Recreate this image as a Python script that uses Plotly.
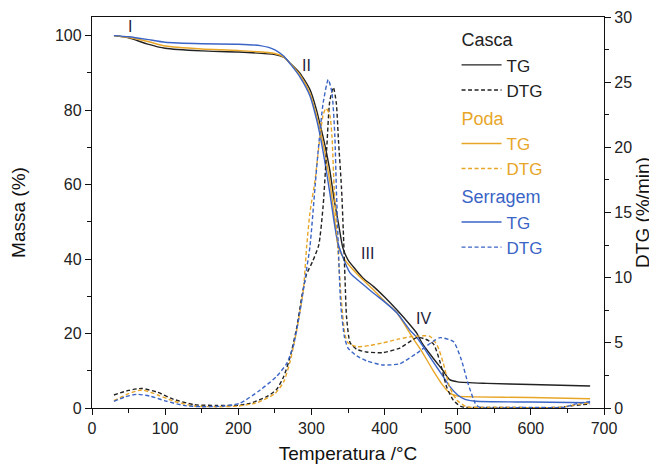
import plotly.graph_objects as go

# ---------------- data ----------------
# TG (mass %) curves
casca_tg_t = [30, 50, 75, 100, 150, 200, 250, 262, 271, 284, 298, 307, 312, 318, 325, 331, 337, 343, 350, 357, 370, 385, 400, 417, 435, 444, 451, 466, 480, 489, 500, 540, 600, 681]
casca_tg_m = [100, 99.4, 97.8, 96.6, 95.9, 95.6, 94.9, 94.2, 92.6, 90, 85.5, 80, 76, 71, 64, 56, 49.5, 43, 39.8, 38, 35, 32.6, 29.8, 26.3, 22.3, 20.1, 17.5, 13.5, 10, 7.6, 7.0, 6.6, 6.3, 5.9]

poda_tg_t = [30, 50, 75, 100, 150, 200, 250, 262, 271, 284, 298, 307, 312, 318, 325, 331, 337, 345, 353, 370, 385, 400, 417, 439, 450, 466, 480, 489, 500, 520, 600, 681]
poda_tg_m = [100, 99.5, 98.5, 97.2, 96.4, 96.0, 95.2, 94.3, 92.5, 89.5, 84.5, 78.5, 74.5, 69, 61, 52, 43, 40, 38, 34.5, 31.7, 28.7, 25.5, 18.7, 15.5, 10.2, 6, 4, 3.2, 3.0, 2.8, 2.5]

serr_tg_t = [30, 50, 75, 100, 150, 200, 230, 250, 262, 271, 284, 298, 307, 312, 318, 325, 331, 336, 341, 353, 370, 385, 400, 417, 435, 444, 451, 466, 480, 489, 500, 510, 525, 600, 681]
serr_tg_m = [100, 99.7, 99, 98.2, 97.8, 97.7, 97.3, 96.2, 94.5, 92.4, 89, 83.8, 77.5, 73, 66.5, 58, 50, 44.5, 41.5, 36.2, 33.3, 30.8, 28.5, 25.5, 20.8, 19, 17, 12.5, 8.5, 5.8, 3.5, 2.3, 1.8, 1.6, 1.4]

# DTG (%/min) curves
casca_dtg_t = [30, 50, 68, 90, 110, 140, 170, 200, 216, 239, 252, 262, 271, 280, 287, 293, 302, 310, 316, 321, 325, 330, 334, 337, 341, 343.5, 346, 348, 353, 362, 375, 398, 421, 444, 455, 467, 476, 485, 494, 505, 550, 640, 660, 681]
casca_dtg_v = [1.0, 1.35, 1.5, 1.2, 0.7, 0.25, 0.2, 0.2, 0.36, 0.87, 1.4, 2.4, 3.95, 6.2, 8.6, 10.2, 11.3, 12.5, 15.5, 20, 23.5, 24.6, 23.4, 20.5, 17, 13.7, 9.8, 7.0, 5.0, 4.5, 4.3, 4.25, 4.6, 5.4, 5.3, 4.9, 3.5, 1.6, 0.6, 0.1, 0.05, 0.05, 0.2, 0.3]

poda_dtg_t = [30, 50, 68, 90, 110, 140, 170, 200, 225, 250, 262, 271, 280, 289, 293.5, 298, 305, 310, 316, 320, 325, 328, 331, 334.5, 337, 341, 346, 350, 362, 380, 398, 420, 440, 462, 472, 480, 489, 499, 512, 550, 640, 660, 681]
poda_dtg_v = [0.56, 1.1, 1.38, 1.0, 0.55, 0.15, 0.1, 0.15, 0.4, 1.1, 2.0, 3.6, 6.0, 9.1, 12.4, 15, 17.5, 20, 22.5, 23.0, 22.5, 20.9, 17, 13.7, 11.5, 8.2, 5.6, 5.0, 4.7, 4.8, 5.0, 5.3, 5.5, 5.5, 4.8, 3.5, 1.6, 0.6, 0.1, 0.05, 0.05, 0.25, 0.4]

serr_dtg_t = [30, 45, 61, 80, 100, 125, 150, 180, 202, 230, 252, 266, 275, 284, 291, 298, 305, 309, 316, 323, 328, 332, 334, 337, 340, 345, 350, 362, 376, 398, 421, 444, 466, 476, 494, 505, 514, 524, 530, 600, 645, 660, 681]
serr_dtg_v = [0.5, 0.85, 1.05, 0.9, 0.55, 0.2, 0.1, 0.15, 0.36, 1.38, 2.4, 3.4, 4.7, 7.3, 9.8, 12.4, 17, 19.6, 23.4, 25.2, 24.2, 20.9, 17, 12, 8, 5.5, 4.6, 4.0, 3.6, 3.3, 3.4, 4.2, 5.1, 5.4, 5.1, 3.7, 1.9, 0.36, 0.05, 0.05, 0.05, 0.3, 0.5]

x_ticks = [0, 100, 200, 300, 400, 500, 600, 700]
left_ticks = [0, 20, 40, 60, 80, 100]
right_ticks = [0, 5, 10, 15, 20, 25, 30]

stage_labels = ["I", "II", "III", "IV"]
stage_x = [52, 293, 376, 453]
stage_y = [102.5, 92, 41.5, 24]

# ---------------- styling ----------------
BLACK = "#222222"
YELLOW = "#E8A628"
BLUE = "#3A64C6"
FONT = "Liberation Sans, Arial, sans-serif"
LW = 1.4
DASH = "4px,2.5px"
SMOOTH = 0.6

fig = go.Figure()

series = [
    ("Casca", BLACK, casca_tg_t, casca_tg_m, casca_dtg_t, casca_dtg_v),
    ("Poda", YELLOW, poda_tg_t, poda_tg_m, poda_dtg_t, poda_dtg_v),
    ("Serragem", BLUE, serr_tg_t, serr_tg_m, serr_dtg_t, serr_dtg_v),
]

for name, col, tt, tm, dt, dv in series:
    fig.add_trace(go.Scatter(
        x=tt, y=tm, mode="lines", yaxis="y",
        line=dict(color=col, width=LW, shape="spline", smoothing=SMOOTH),
        legendgroup=name,
        legendgrouptitle=dict(text=name, font=dict(color=col, size=18, family=FONT)),
        name=f"<span style='color:{col}'>TG</span>",
    ))
    fig.add_trace(go.Scatter(
        x=dt, y=dv, mode="lines", yaxis="y2",
        line=dict(color=col, width=LW, dash=DASH, shape="spline", smoothing=SMOOTH),
        legendgroup=name,
        name=f"<span style='color:{col}'>DTG</span>",
    ))

for lab, sx, sy in zip(stage_labels, stage_x, stage_y):
    fig.add_annotation(x=sx, y=sy, xref="x", yref="y", text=lab, showarrow=False,
                       font=dict(size=16, color="#1f1f3a", family=FONT))

axis_common = dict(
    showline=True, linecolor="#111", linewidth=1.3,
    ticks="outside", ticklen=6, tickwidth=1.2, tickcolor="#111",
    showgrid=False, zeroline=False, automargin=False,
    tickfont=dict(size=16, color="#222", family=FONT),
)
TITLE_FONT = dict(size=19, family=FONT, color="#111")

# the page body adds an 8px offset, so the figure is sized to fit the 657x466 window
fig.update_layout(
    width=649, height=458,
    margin=dict(l=84, r=53, t=9, b=58),
    paper_bgcolor="white", plot_bgcolor="white",
    font=dict(family=FONT, color="#111"),
    showlegend=True,
    legend=dict(
        x=0.712, y=0.99, xanchor="left", yanchor="top",
        bgcolor="rgba(0,0,0,0)", borderwidth=0,
        font=dict(size=17, family=FONT, color=BLACK),
        tracegroupgap=2, itemwidth=40, groupclick="toggleitem",
    ),
    xaxis=dict(
        range=[0, 700], tickvals=x_ticks, mirror=True,
        minor=dict(dtick=50, ticks="outside", ticklen=4, tickcolor="#111"),
        title=dict(text="Temperatura /°C", font=TITLE_FONT, standoff=10),
        **axis_common,
    ),
    yaxis=dict(
        range=[0, 105], tickvals=left_ticks,
        minor=dict(dtick=10, ticks="outside", ticklen=4, tickcolor="#111"),
        title=dict(text="Massa (%)", font=TITLE_FONT, standoff=24),
        **axis_common,
    ),
    yaxis2=dict(
        range=[0, 30], tickvals=right_ticks, overlaying="y", side="right",
        minor=dict(dtick=2.5, ticks="outside", ticklen=4, tickcolor="#111"),
        title=dict(text="DTG (%/min)", font=TITLE_FONT, standoff=4),
        **axis_common,
    ),
)

fig.write_html("out.html")
